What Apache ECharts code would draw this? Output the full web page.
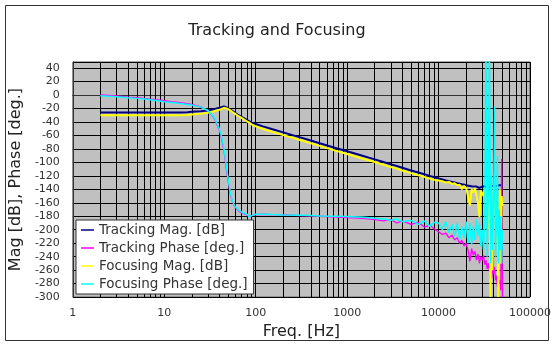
<!DOCTYPE html>
<html>
<head>
<meta charset="utf-8">
<script src="https://cdn.jsdelivr.net/npm/echarts@6/dist/echarts.min.js"></script>
<style>html,body{margin:0;padding:0;background:#fff}#c{width:554px;height:345px}</style>
</head>
<body>
<div id="c"></div>
<script>
// Frequencies (Hz)
const lowFreq = [2,3,4,5,6,7,8,10,12,15,18,20,25,30,35,40,42,45,48,50,53,55,58,60,65,70,80,85,90,100,120,150,200,300,400,500,700,1000,1500,2000,2500,3000,3500,4000,5000,6000,7000,8000,9000];
const highFreq = [10000,11000,12000,13000,14000,15000,16000,17000,18000,19000,20000,21000,22000,23000,24000,25000,26000,27000,28000,29000,30000,31000,32000,33000,34000,35000,36000,37000,38000,39000,40000,41000,42000,43000,44000,45000,46000,47000,48000,49000,50000];

// Tracking Mag. [dB]
const trackMagLow = [-26,-26,-26,-26,-26, -26,-26,-26,-26,-26, -25.5,-25,-24,-23,-21, -19,-18,-17,-18.5,-20, -22,-23.5,-25.5,-27,-30, -32.5,-37,-39,-41,-43, -46.5,-50.5,-55.5,-62.5,-67.5, -71.5,-77.5,-83.5,-90.5,-95.5, -99.5,-103,-105.5,-108,-112, -115,-117.5,-120,-122];
const trackMagHigh = [-124,-125.5,-127,-128,-129, -130,-131,-131.5,-132.5,-133, -134,-134.5,-135,-136,-136, -137,-136,-137,-138,-137, -136,-137,-136,-135,-136, -135,-136,-134,-135,-134, -135,-133,-134,-135,-134, -134,-134,-135,-134,-134, -134];

// Tracking Phase [deg.]
const trackPhaseLow = [0,-1.5,-3,-4,-5, -6,-7,-8.5,-10,-11.5, -13,-14,-17.5,-23,-34, -52,-62,-83,-112,-128, -149,-156,-164,-167,-172, -175,-178,-180,-179,-177.5, -177,-177.5,-178,-179,-179.5, -180,-181,-182,-183,-185, -187,-185,-190,-187,-192, -189,-196,-193,-199];
const trackPhaseHigh = [-203,-207,-205,-212,-208, -215,-212,-220,-216,-224, -220,-230,-247,-228,-238, -232,-245,-236,-250,-240, -245,-238,-252,-245,-258, -250,-262,-255,-272,-260, -265,-255,-275,-268,-285, -270,-280,-275,-290,-95, -300];

// Focusing Mag. [dB]
const focusMagLow = [-30,-30,-30,-30,-30, -30,-30,-30,-30,-30, -29.5,-29,-28,-26.5,-24, -22,-21,-19,-20,-21.5, -23,-24.5,-27,-28.5,-31.5, -34,-39,-41,-43.5,-46.5, -50.5,-54.5,-59.5,-66.5,-71.5, -75.5,-81.5,-87.5,-94.5,-99.5, -103.5,-107,-109.5,-112,-116, -119,-121.5,-124,-126];
const focusMagHigh = [-127,-128,-130,-129,-132, -131,-134,-133,-140,-135, -138,-150,-164,-140,-145, -138,-149,-160,-181,-142, -140,-150,-138,-160,-135, -200,-150,-300,-180,-260, -140,-170,-144,-220,-150, -300,-190,-140,-250,-150, -165];

// Focusing Phase [deg.]
const focusPhaseLow = [-1,-2.5,-4,-5,-6, -7,-8,-10,-11,-12.5, -14,-15,-18,-23,-33, -50,-60,-80,-108,-125, -147,-155,-163,-166,-171, -174,-177,-181,-179,-177, -177,-177.5,-178,-178.5,-179, -179.5,-180,-180.5,-181.5,-183, -184,-186,-184,-188,-186, -192,-187,-195,-189];
const focusPhaseHigh = [-190,-200,-188,-205,-192, -210,-190,-215,-195,-212, -188,-220,-190,-222,-195, -215,-185,-210,-190,-225, -200,-230,-180,80,-240, -150,80,-250,-120,-230, -160,-17,-240,-190,-90, -250,-170,-230,-180,-250, -200];

const yTicks = [-300,-280,-260,-240,-220,-200,-180,-160,-140,-120,-100,-80,-60,-40,-20,0,20,40];
const decades = [1,10,100,1000,10000];
const minorMultipliers = [2,3,4,5,6,7,8,9];

function pairs(fs, vs) { return fs.map((f, i) => [f, vs[i]]); }
const minorLines = [];
decades.forEach(d => minorMultipliers.forEach(m => minorLines.push({xAxis: d * m})));

const chart = echarts.init(document.getElementById('c'), null, {renderer: 'canvas'});
const FONT = 'DejaVu Sans';
chart.setOption({
  animation: false,
  backgroundColor: '#ffffff',
  title: {
    text: 'Tracking and Focusing', left: 'center', top: 18,
    textStyle: {fontFamily: FONT, fontSize: 16, fontWeight: 'normal', color: '#222'}
  },
  graphic: [{
    type: 'rect', silent: true, z: 100,
    shape: {x: 5.5, y: 5.5, width: 543, height: 335},
    style: {fill: 'none', stroke: '#333', lineWidth: 1}
  }],
  legend: {
    data: ['Tracking Mag. [dB]', 'Tracking Phase [deg.]', 'Focusing Mag. [dB]', 'Focusing Phase [deg.]'],
    orient: 'vertical', left: 76, top: 220, z: 20,
    backgroundColor: '#ffffff', borderColor: '#333', borderWidth: 1,
    padding: [3, 6, 3, 5], itemGap: 4, itemWidth: 13, itemHeight: 1.5,
    icon: 'rect',
    textStyle: {fontFamily: FONT, fontSize: 13.5, color: '#333', lineHeight: 14}
  },
  grid: {
    left: 64, right: 24, top: 62, height: 237,
    show: true, backgroundColor: '#c0c0c0', borderColor: '#555', borderWidth: 1
  },
  xAxis: {
    type: 'log', logBase: 10, min: 1, max: 100000,
    name: 'Freq. [Hz]', nameLocation: 'middle', nameGap: 26,
    nameTextStyle: {fontFamily: FONT, fontSize: 16, color: '#222'},
    axisLine: {show: true, lineStyle: {color: '#333'}},
    axisTick: {show: false},
    axisLabel: {fontFamily: FONT, fontSize: 11, color: '#333', margin: 11,
      formatter: v => String(Math.round(v))},
    splitLine: {show: true, lineStyle: {color: '#000', width: 1}}
  },
  yAxis: {
    type: 'value', min: -300, max: 49, interval: 20,
    name: 'Mag [dB], Phase [deg.]', nameLocation: 'middle', nameGap: 45,
    nameTextStyle: {fontFamily: FONT, fontSize: 16, color: '#222'},
    axisLine: {show: true, lineStyle: {color: '#333'}},
    axisTick: {show: false},
    axisLabel: {fontFamily: FONT, fontSize: 11, color: '#333', margin: 13,
      formatter: v => (yTicks.indexOf(v) >= 0 ? String(v) : '')},
    splitLine: {show: true, lineStyle: {color: '#000', width: 1}}
  },
  series: [
    {
      name: 'grid', type: 'line', data: [[1, -300]], symbol: 'none', silent: true, z: 1,
      lineStyle: {opacity: 0},
      markLine: {
        silent: true, symbol: ['none', 'none'], label: {show: false}, animation: false, z: 1,
        lineStyle: {color: '#000', width: 1, type: 'solid'},
        emphasis: {disabled: true},
        data: minorLines
      }
    },
    {name: 'Tracking Mag. [dB]', type: 'line', symbol: 'none', color: '#000080', z: 3,
     lineStyle: {width: 2, color: '#000080'},
     data: pairs(lowFreq, trackMagLow).concat(pairs(highFreq, trackMagHigh))},
    {name: 'Tracking Phase [deg.]', type: 'line', symbol: 'none', color: '#ff00ff', z: 3,
     lineStyle: {width: 1.3, color: '#ff00ff'},
     data: pairs(lowFreq, trackPhaseLow).concat(pairs(highFreq, trackPhaseHigh))},
    {name: 'Focusing Mag. [dB]', type: 'line', symbol: 'none', color: '#ffff00', z: 3,
     lineStyle: {width: 2, color: '#ffff00'},
     data: pairs(lowFreq, focusMagLow).concat(pairs(highFreq, focusMagHigh))},
    {name: 'Focusing Phase [deg.]', type: 'line', symbol: 'none', color: '#00ffff', z: 3,
     lineStyle: {width: 1.5, color: '#00ffff'},
     data: pairs(lowFreq, focusPhaseLow).concat(pairs(highFreq, focusPhaseHigh))}
  ]
});
</script>
</body>
</html>
